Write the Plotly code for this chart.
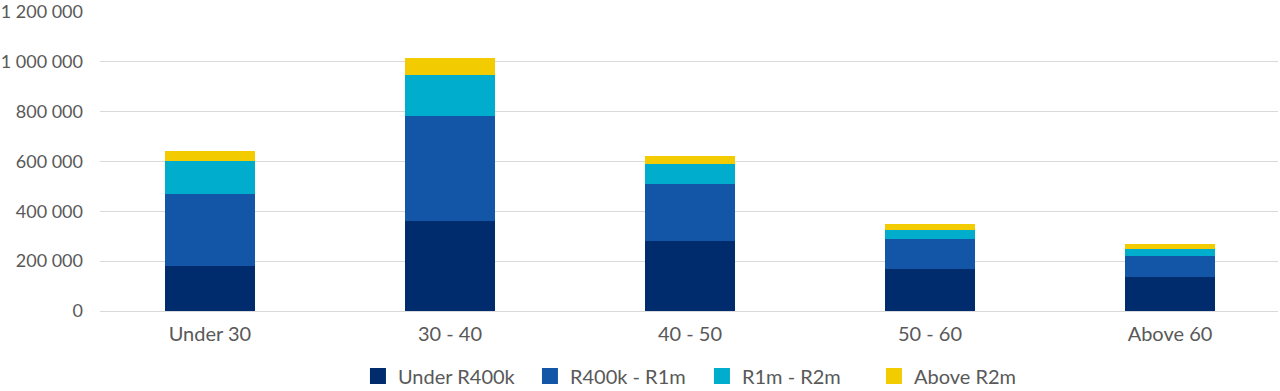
import plotly.graph_objects as go

categories = ["Under 30", "30 - 40", "40 - 50", "50 - 60", "Above 60"]
under_r400k = [181000, 362000, 282000, 169000, 137000]
r400k_r1m = [289000, 421000, 226000, 118000, 82000]
r1m_r2m = [130000, 165000, 80000, 37000, 28000]
above_r2m = [42000, 65000, 33000, 24000, 22000]

series = [
    ("Under R400k", under_r400k, "#002B6C"),
    ("R400k - R1m", r400k_r1m, "#1355A6"),
    ("R1m - R2m", r1m_r2m, "#00ADCC"),
    ("Above R2m", above_r2m, "#F2CC00"),
]

tick_vals = [0, 200000, 400000, 600000, 800000, 1000000, 1200000]
tick_text = ["0", "200 000", "400 000", "600 000", "800 000", "1 000 000", "1 200 000"]

fig = go.Figure()
for name, vals, color in series:
    fig.add_trace(go.Bar(
        x=categories, y=vals, name=name, legendgroup=name, showlegend=False,
        marker=dict(color=color, line=dict(width=0)),
        width=0.375,
    ))
# legend entries with larger square swatches
for name, vals, color in series:
    fig.add_trace(go.Scatter(
        x=[None], y=[None], name=name, legendgroup=name, mode="markers",
        marker=dict(symbol="square", size=19, color=color),
    ))

font_family = "Lato, Open Sans, sans-serif"
fig.update_layout(
    barmode="stack",
    width=1280, height=391,
    margin=dict(l=100, r=2, t=11, b=80, autoexpand=False),
    paper_bgcolor="white", plot_bgcolor="white",
    font=dict(family=font_family, size=18, color="#595959"),
    xaxis=dict(range=[-0.458, 4.45], showgrid=False, showline=False,
               ticks="", ticklabelstandoff=9, automargin=False,
               tickfont=dict(size=20, color="#595959")),
    yaxis=dict(range=[0, 1203000], tickvals=tick_vals, ticktext=tick_text,
               showgrid=True, gridcolor="#D9D9D9", gridwidth=1,
               zeroline=True, zerolinecolor="#D9D9D9", zerolinewidth=1,
               ticks="", ticklabelstandoff=16, ticklabeloverflow="allow",
               automargin=False,
               tickfont=dict(size=18, color="#595959")),
    legend=dict(orientation="h", x=0.511, xanchor="center",
                yref="container", y=15 / 391, yanchor="middle",
                font=dict(size=20, color="#595959"), traceorder="normal",
                entrywidth=127, entrywidthmode="pixels", itemwidth=30),
    showlegend=True,
)

fig.write_html("out.html", config={"displayModeBar": False},
               post_script="document.body.style.margin='0';window.dispatchEvent(new Event('resize'));")
